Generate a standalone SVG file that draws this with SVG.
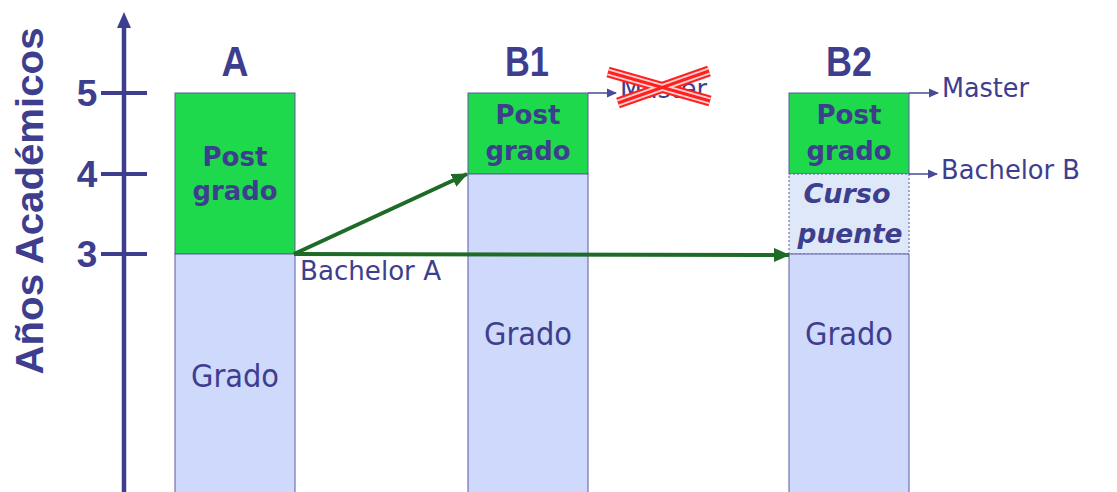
<svg xmlns="http://www.w3.org/2000/svg" width="1117" height="492" viewBox="0 0 1117 492">
<style>
.t{fill:#3e3e8e;font-family:"DejaVu Sans Condensed","DejaVu Sans",sans-serif}
.b{fill:#3e3e8e;font-family:"DejaVu Sans","Liberation Sans",sans-serif;font-weight:bold}
.h{fill:#3e3e8e;font-family:"Liberation Sans",Arial,sans-serif;font-weight:bold}
.green{fill:#1fd94c;stroke:#5a5aa0;stroke-width:1}
.blue{fill:#ced9fb;stroke:#5a5aa0;stroke-width:1}
.axis{stroke:#3e3e8e;stroke-width:4.5;fill:none}
.tick{stroke:#3e3e8e;stroke-width:4;fill:none}
.thin{stroke:#4a4a96;stroke-width:1.5;fill:none}
.garrow{stroke:#1e6b28;stroke-width:4;fill:none}
</style>
<defs>
<marker id="bm" markerWidth="10" markerHeight="10" refX="9" refY="5" orient="auto" markerUnits="userSpaceOnUse">
<path d="M0,0.5 L10,5 L0,9.5 Z" fill="#4a4a96"/>
</marker>
<marker id="gm" markerWidth="16" markerHeight="14" refX="15" refY="7" orient="auto" markerUnits="userSpaceOnUse">
<path d="M0,0 L16,7 L0,14 Z" fill="#1e6b28"/>
</marker>
</defs>

<g id="axis">
<line class="axis" x1="124" y1="492" x2="124" y2="26"/>
<path d="M124,12 L131,28 L117,28 Z" fill="#3e3e8e"/>
<line class="tick" x1="101" y1="93" x2="147" y2="93"/>
<line class="tick" x1="101" y1="174" x2="147" y2="174"/>
<line class="tick" x1="101" y1="254" x2="147" y2="254"/>
<text class="h" x="87" y="106" font-size="37" text-anchor="middle">5</text>
<text class="h" x="87" y="187" font-size="37" text-anchor="middle">4</text>
<text class="h" x="87" y="267" font-size="37" text-anchor="middle">3</text>
<text class="h" font-size="38" text-anchor="middle" transform="translate(43,201) rotate(-90)" textLength="347" lengthAdjust="spacingAndGlyphs">Años Académicos</text>
</g>

<g id="colA">
<rect class="green" x="175" y="93" width="120" height="161"/>
<rect class="blue" x="175" y="254" width="120" height="240"/>
<text class="h" x="235" y="76" font-size="42" text-anchor="middle" textLength="27" lengthAdjust="spacingAndGlyphs">A</text>
<text class="b" x="235" y="166" font-size="26" text-anchor="middle" textLength="65" lengthAdjust="spacingAndGlyphs">Post</text>
<text class="b" x="235" y="200" font-size="26" text-anchor="middle" textLength="85" lengthAdjust="spacingAndGlyphs">grado</text>
<text class="t" x="235" y="387" font-size="32" text-anchor="middle" textLength="88" lengthAdjust="spacingAndGlyphs">Grado</text>
</g>

<g id="colB1">
<rect class="green" x="468" y="93" width="120" height="81"/>
<rect class="blue" x="468" y="174" width="120" height="320"/>
<text class="h" x="527" y="76" font-size="42" text-anchor="middle" textLength="44" lengthAdjust="spacingAndGlyphs">B1</text>
<text class="b" x="528" y="124" font-size="26" text-anchor="middle" textLength="65" lengthAdjust="spacingAndGlyphs">Post</text>
<text class="b" x="528" y="160" font-size="26" text-anchor="middle" textLength="85" lengthAdjust="spacingAndGlyphs">grado</text>
<text class="t" x="528" y="345" font-size="32" text-anchor="middle" textLength="88" lengthAdjust="spacingAndGlyphs">Grado</text>
<line class="thin" x1="588" y1="93" x2="616" y2="93" marker-end="url(#bm)"/>
<text class="t" x="620" y="98" font-size="26" textLength="87" lengthAdjust="spacingAndGlyphs">Master</text>
<g id="crossout">
<line x1="608" y1="72" x2="710" y2="101" stroke="#ff2020" stroke-width="11"/>
<line x1="618" y1="103" x2="709" y2="71" stroke="#ff2020" stroke-width="11"/>
<line x1="608" y1="72" x2="710" y2="101" stroke="#ffd0d0" stroke-width="7"/>
<line x1="618" y1="103" x2="709" y2="71" stroke="#ffd0d0" stroke-width="7"/>
<line x1="608" y1="72" x2="710" y2="101" stroke="#ff2020" stroke-width="3"/>
<line x1="618" y1="103" x2="709" y2="71" stroke="#ff2020" stroke-width="3"/>
</g>
</g>

<g id="colB2">
<rect class="green" x="789" y="93" width="120" height="81"/>
<rect x="789" y="174" width="120" height="80" fill="#dfe8f8" stroke="#5a5aa0" stroke-width="1" stroke-dasharray="2,2"/>
<rect class="blue" x="789" y="254" width="120" height="240"/>
<text class="h" x="849" y="76" font-size="42" text-anchor="middle" textLength="46" lengthAdjust="spacingAndGlyphs">B2</text>
<text class="b" x="849" y="124" font-size="26" text-anchor="middle" textLength="65" lengthAdjust="spacingAndGlyphs">Post</text>
<text class="b" x="849" y="160" font-size="26" text-anchor="middle" textLength="85" lengthAdjust="spacingAndGlyphs">grado</text>
<text class="b" x="847" y="203" font-size="26" font-style="italic" text-anchor="middle" textLength="87" lengthAdjust="spacingAndGlyphs">Curso</text>
<text class="b" x="850" y="243" font-size="26" font-style="italic" text-anchor="middle" textLength="105" lengthAdjust="spacingAndGlyphs">puente</text>
<text class="t" x="849" y="345" font-size="32" text-anchor="middle" textLength="88" lengthAdjust="spacingAndGlyphs">Grado</text>
<line class="thin" x1="909" y1="93" x2="938" y2="93" marker-end="url(#bm)"/>
<text class="t" x="942" y="97" font-size="26" textLength="87" lengthAdjust="spacingAndGlyphs">Master</text>
<line class="thin" x1="909" y1="174" x2="937" y2="174" marker-end="url(#bm)"/>
<text class="t" x="941" y="179" font-size="26" textLength="139" lengthAdjust="spacingAndGlyphs">Bachelor B</text>
</g>

<g id="connectors">
<line class="garrow" x1="294" y1="254" x2="467" y2="174" marker-end="url(#gm)"/>
<line class="garrow" x1="294" y1="254" x2="789" y2="255" marker-end="url(#gm)"/>
<text class="t" x="300" y="280" font-size="26" textLength="141" lengthAdjust="spacingAndGlyphs">Bachelor A</text>
</g>
</svg>
